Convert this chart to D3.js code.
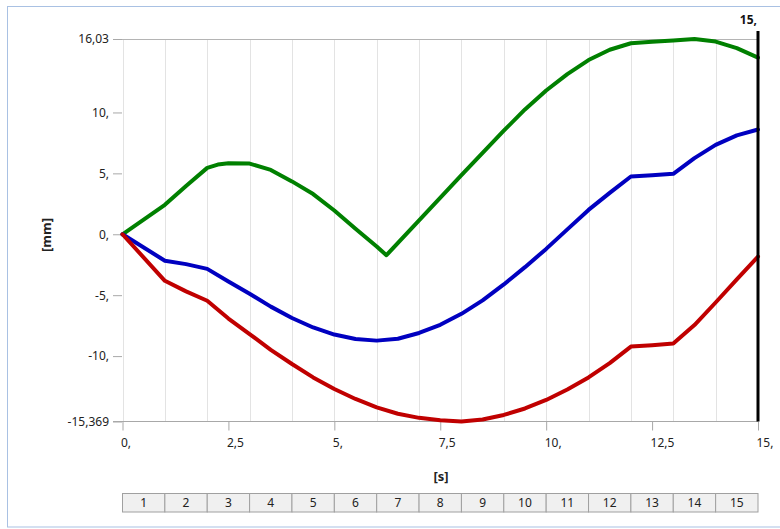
<!DOCTYPE html>
<html><head><meta charset="utf-8">
<script src="https://cdn.jsdelivr.net/npm/d3@7/dist/d3.min.js"></script>
<style>
html,body{margin:0;padding:0;background:#fff;}
svg{display:block;font-family:"Noto Sans","Open Sans",sans-serif;}
</style></head>
<body>
<svg id="c" width="780" height="529"></svg>
<script>
// ---- data ----
const greenT = [0,1,1.5,2,2.25,2.5,3,3.5,4,4.5,5,5.5,6,6.23,7,8,9,9.5,10,10.5,11,11.5,12,12.5,13,13.5,14,14.5,15];
const greenV = [0,2.42,3.97,5.45,5.72,5.83,5.8,5.28,4.34,3.3,1.95,0.45,-1.0,-1.72,1.15,4.85,8.5,10.25,11.8,13.15,14.3,15.15,15.68,15.8,15.9,16.03,15.82,15.28,14.5];
const blueT = [0,1,1.5,2,2.5,3,3.5,4,4.5,5,5.5,6,6.5,7,7.5,8,8.5,9,9.5,10,10.5,11,11.5,12,12.5,13,13.5,14,14.5,15];
const blueV = [0,-2.17,-2.45,-2.84,-3.88,-4.88,-5.94,-6.87,-7.65,-8.23,-8.6,-8.73,-8.58,-8.1,-7.43,-6.53,-5.43,-4.12,-2.7,-1.2,0.4,2.0,3.4,4.74,4.85,4.96,6.25,7.34,8.12,8.6];
const redT = [0,1,1.5,2,2.5,3,3.5,4,4.5,5,5.5,6,6.5,7,7.5,8,8.5,9,9.5,10,10.5,11,11.5,12,12.5,13,13.5,14,14.5,15];
const redV = [0,-3.82,-4.69,-5.46,-6.92,-8.19,-9.49,-10.65,-11.75,-12.7,-13.52,-14.21,-14.73,-15.07,-15.27,-15.369,-15.21,-14.83,-14.3,-13.6,-12.74,-11.75,-10.58,-9.22,-9.1,-8.97,-7.45,-5.6,-3.7,-1.83];
const yTicks = [16.03,10,5,0,-5,-10,-15.369];
const yTickLabels = ["16,03","10,","5,","0,","-5,","-10,","-15,369"];
const xTicks = [0,2.5,5,7.5,10,12.5,15];
const xTickLabels = ["0,","2,5","5,","7,5","10,","12,5","15,"];
const gridT = [0,1,2,3,4,5,6,7,8,9,10,11,12,13,14];
const steps = [1,2,3,4,5,6,7,8,9,10,11,12,13,14,15];
const cursorT = 15;
const cursorLabel = "15,";
const xTitle = "[s]", yTitle = "[mm]";

// ---- drawing ----
const svg = d3.select("#c");
const x = d3.scaleLinear().domain([0,15]).range([122.5,758]);
const y = d3.scaleLinear().domain([-15.369,16.03]).range([421.5,39]);

svg.append("rect").attr("x",7.5).attr("y",6.5).attr("width",790).attr("height",520.5)
  .attr("fill","none").attr("stroke","#a9c1e3").attr("stroke-width",1);

// vertical grid
svg.append("g").selectAll("line").data(gridT).join("line")
  .attr("x1",d=>Math.round(x(d))+0.5).attr("x2",d=>Math.round(x(d))+0.5)
  .attr("y1",y(16.03)).attr("y2",y(-15.369))
  .attr("stroke","#e3e3e3").attr("stroke-width",1);

// top line
svg.append("line").attr("x1",113).attr("x2",758).attr("y1",Math.round(y(16.03))+0.5).attr("y2",Math.round(y(16.03))+0.5)
  .attr("stroke","#b4b4b4");

// y axis
const yAxis = d3.axisLeft(y).tickValues(yTicks).tickFormat((d,i)=>yTickLabels[i]).tickSize(9).tickPadding(4);
const gy = svg.append("g").attr("transform","translate(122,0)").call(yAxis);
gy.select(".domain").remove();
gy.selectAll(".tick line").attr("stroke","#a8a8a8");
gy.selectAll(".tick text").attr("font-size",12).attr("fill","#222").attr("font-family","'Noto Sans','Open Sans',sans-serif");

// x axis
const xAxis = d3.axisBottom(x).tickValues(xTicks).tickFormat((d,i)=>xTickLabels[i]).tickSize(9).tickPadding(8);
const gx = svg.append("g").attr("transform","translate(0,421.5)").call(xAxis);
gx.select(".domain").attr("stroke","#a8a8a8").attr("d","M"+113+",0H758");
gx.selectAll(".tick line").attr("stroke","#a8a8a8");
gx.selectAll(".tick text").attr("font-size",12).attr("fill","#222").attr("text-anchor","start").attr("dx",-2)
  .attr("font-family","'Noto Sans','Open Sans',sans-serif");

// lines
const line = d3.line().x(d=>x(d[0])).y(d=>y(d[1]));
const series = [
  {t:greenT,v:greenV,c:"#008000"},
  {t:blueT,v:blueV,c:"#0000c0"},
  {t:redT,v:redV,c:"#c00000"}
];
series.forEach(s=>{
  svg.append("path").datum(s.t.map((t,i)=>[t,s.v[i]]))
    .attr("d",line).attr("fill","none").attr("stroke",s.c).attr("stroke-width",4)
    .attr("stroke-linejoin","round").attr("stroke-linecap","round");
});

// cursor
svg.append("line").attr("x1",x(cursorT)).attr("x2",x(cursorT)).attr("y1",31).attr("y2",y(-15.369))
  .attr("stroke","#000").attr("stroke-width",3);
svg.append("text").attr("x",x(cursorT)-1).attr("y",24).attr("text-anchor","end")
  .attr("font-size",12).attr("font-weight","bold").attr("fill","#111").text(cursorLabel);

// titles
svg.append("text").attr("transform","translate(51,235) rotate(-90)").attr("text-anchor","middle")
  .attr("font-size",13).attr("font-weight","bold").attr("fill","#222").text(yTitle);
svg.append("text").attr("x",441).attr("y",481).attr("text-anchor","middle")
  .attr("font-size",13).attr("font-weight","bold").attr("fill","#222").text(xTitle);

// step table
const tg = svg.append("g");
tg.selectAll("rect").data(steps).join("rect")
  .attr("x",d=>x(d-1)).attr("y",493.5).attr("width",d=>x(d)-x(d-1)).attr("height",18.5)
  .attr("fill","#f0f0f0").attr("stroke","#a0a0a0").attr("stroke-width",1);
tg.selectAll("text").data(steps).join("text")
  .attr("x",d=>(x(d-1)+x(d))/2).attr("y",507).attr("text-anchor","middle")
  .attr("font-size",12).attr("fill","#222").text(d=>d);
</script>
</body></html>
